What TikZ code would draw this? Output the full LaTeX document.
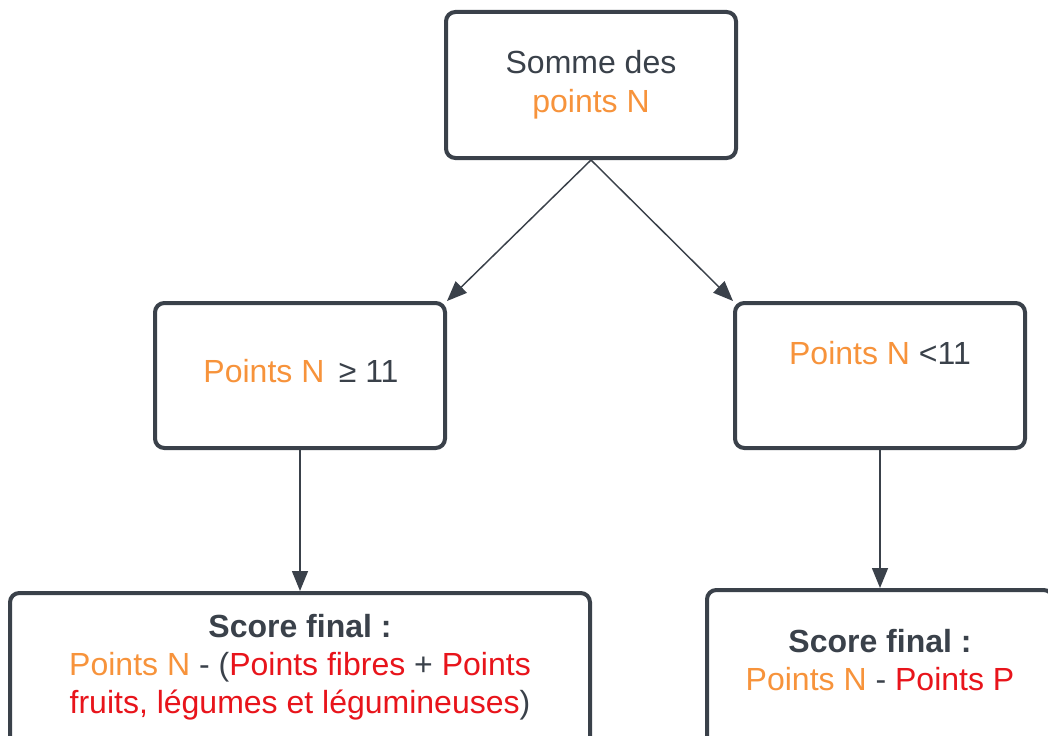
\documentclass[tikz,border=0pt]{standalone}
\usepackage{fontspec}
\setmainfont{Liberation Sans}
\usetikzlibrary{arrows.meta}

\definecolor{ptsorange}{HTML}{F7933B}
\definecolor{ptsred}{HTML}{E8141B}
\definecolor{inkgray}{HTML}{3A414A}

\begin{document}
\begin{tikzpicture}[x=0.75pt, y=-0.75pt,
    box/.style={draw=inkgray, line width=3pt, rounded corners=7pt, fill=white,
      inner sep=0pt, text=inkgray, align=center, font=\fontsize{24pt}{29pt}\selectfont},
    txt/.style={text=inkgray, align=center, font=\fontsize{24pt}{28.5pt}\selectfont},
    flow/.style={draw=inkgray, line width=1.1pt, -{Triangle[length=15pt,width=12pt]}}]
  \useasboundingbox (0,0) rectangle (1048,735);
  \clip (0,0) rectangle (1048,735);

  % boxes
  \node[box, minimum width=217.5pt, minimum height=109.5pt] (somme) at (591,85)
    {Somme des\\\textcolor{ptsorange}{points N}};
  \node[box, minimum width=217.5pt, minimum height=108.75pt] (sup) at (300,375.5) {};
  \node[box, minimum width=217.5pt, minimum height=108.75pt] (inf) at (880,375.5) {};
  \node[box, minimum width=435pt, minimum height=127.5pt] (scoreA) at (300,678) {};
  \node[box, minimum width=259.5pt, minimum height=127.5pt] (scoreB) at (880,675) {};

  % texts
  \node[txt] (supTxt) at (301,371) {\textcolor{ptsorange}{Points N}\hspace{0.45em}≥ 11};
  \node[txt] (infTxt) at (880,353) {\textcolor{ptsorange}{Points N} <11};
  \node[txt] (scoreATxt) at (300,667) {\textbf{Score final :}\\
    \textcolor{ptsorange}{Points N} - (\textcolor{ptsred}{Points fibres} + \textcolor{ptsred}{Points}\\
    \textcolor{ptsred}{fruits, légumes et légumineuses})};
  \node[txt] (scoreBTxt) at (880,660) {\textbf{Score final :}\\
    \textcolor{ptsorange}{Points N} - \textcolor{ptsred}{Points P}};

  % arrows
  \draw[flow] (somme.south) -- (sup.north east);
  \draw[flow] (somme.south) -- (inf.north west);
  \draw[flow] (sup.south) -- (scoreA.north);
  \draw[flow] (inf.south) -- (scoreB.north);
\end{tikzpicture}
\end{document}
